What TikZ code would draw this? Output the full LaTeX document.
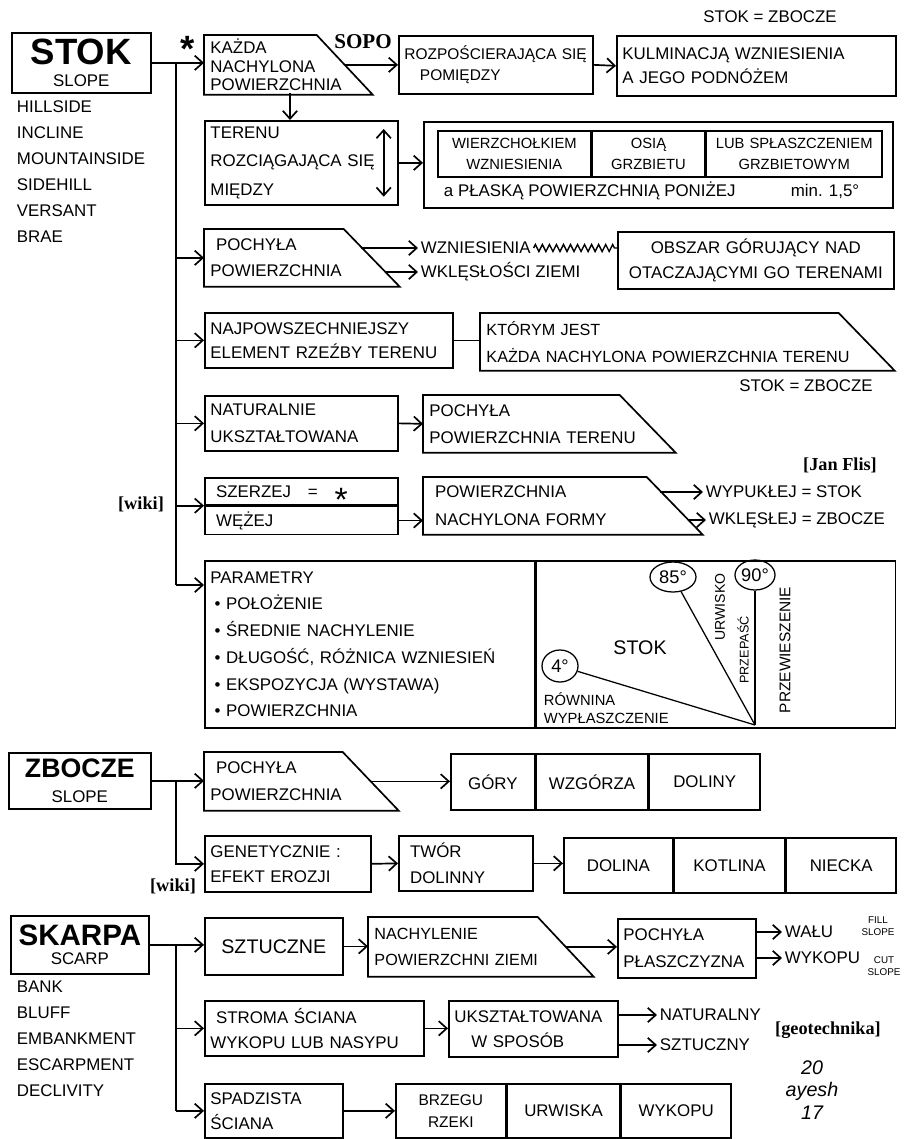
\documentclass[tikz,border=0pt]{standalone}
\usepackage{fontspec}
\setmainfont{Liberation Sans}
\newfontfamily\serifb{Liberation Serif}
\usetikzlibrary{arrows.meta,calc,shapes.geometric,decorations.pathmorphing}
\newcommand\hand{\fontsize{12}{15}\selectfont}
\newcommand\trap[1]{\draw (#1.north west) -- ($(#1.north east)+(-28,0)$) -- ($(#1.south east)+(28,0)$) -- (#1.south west) -- cycle;}
\begin{document}
\begin{tikzpicture}[x=0.025cm,y=-0.025cm,line width=1.2pt,
  >={Straight Barb[length=2mm,width=3.6mm]},
  box/.style 2 args={draw,anchor=north west,inner xsep=4pt,inner ysep=0pt,
    text width={#1*0.025cm-8pt},minimum height={#2*0.025cm},align=left,font=\hand},
  tbox/.style 2 args={box={#1}{#2},draw=none},
  cell/.style 2 args={box={#1}{#2},align=center},
  lbl/.style={font=\hand,inner sep=1.5pt},
  src/.style={font=\serifb\bfseries\fontsize{13}{13}\selectfont,inner sep=0pt},
  deg/.style={draw,ellipse,inner sep=0pt,line width=0.9pt,font=\fontsize{13}{13}\selectfont}]
\useasboundingbox (0,0) rectangle (908,1139);
\node[box={139}{60},align=center] (stok) at (11,32) {{\fontsize{26}{26}\selectfont\bfseries STOK}\\SLOPE};
\node[lbl,anchor=north west,align=left,font=\fontsize{12}{18.5}\selectfont] (stoksyn) at (14,98) {HILLSIDE\\INCLINE\\MOUNTAINSIDE\\SIDEHILL\\VERSANT\\BRAE};
\node[lbl,anchor=north,inner sep=0pt,font=\fontsize{26}{26}\selectfont\bfseries] (star) at (188,35) {*};
\node[tbox={139}{58},font=\fontsize{12}{13.3}\selectfont] (kazda) at (204,35) {KAŻDA\\NACHYLONA\\POWIERZCHNIA};
\trap{kazda}
\node[src,font=\serifb\bfseries\fontsize{15}{15}\selectfont] (sopo) at (363,42) {SOPO};
\node[box={194}{58},font=\fontsize{11}{15}\selectfont] (rozp) at (398,35) {ROZPOŚCIERAJĄCA SIĘ\\\quad POMIĘDZY};
\node[box={279}{60},font=\fontsize{12}{17}\selectfont] (kulm) at (616,35) {KULMINACJĄ WZNIESIENIA\\A JEGO PODNÓŻEM};
\node[lbl] (rowne1) at (770,17) {STOK = ZBOCZE};
\draw[->] (kazda.east) -- (rozp.west);
\draw[->] (rozp.east) -- (kulm.west);
\coordinate (kd) at (290,93);
\node[box={193}{84},font=\fontsize{12}{20}\selectfont] (teren) at (204,120) {TERENU\\ROZCIĄGAJĄCA SIĘ\\MIĘDZY};
\draw[->] (kd) -- (kd |- teren.north);
\draw[<->] ($(teren.north east)+(-15,9)$) -- ($(teren.south east)+(-15,-9)$);
\node[box={469}{86}] (wierz) at (423,121) {};
\node[cell={153}{46},font=\fontsize{10.5}{15}\selectfont] (wz1) at (437,130) {WIERZCHOŁKIEM\\WZNIESIENIA};
\node[cell={112}{46},font=\fontsize{10.5}{15}\selectfont] (wz2) at (wz1.north east) {OSIĄ\\GRZBIETU};
\node[cell={176}{46},font=\fontsize{10.5}{15}\selectfont] (wz3) at (wz2.north east) {LUB SPŁASZCZENIEM\\GRZBIETOWYM};
\node[lbl,anchor=west] (plaska) at (441,191) {a PŁASKĄ POWIERZCHNIĄ PONIŻEJ};
\node[lbl] (min) at (825,191) {min. 1,5°};
\draw[->] (teren.east) -- (teren.east -| wierz.west);
\node[tbox={166}{56},font=\fontsize{12}{18.5}\selectfont] (pochyla) at (204,229) {\ POCHYŁA\\POWIERZCHNIA};
\trap{pochyla}
\coordinate (pa) at (361,248);
\coordinate (pb) at (385,272);
\node[lbl,anchor=west] (wzn) at (418,248) {WZNIESIENIA};
\node[lbl,anchor=west] (wkl) at (418,272) {WKLĘSŁOŚCI ZIEMI};
\draw[->] (pa) -- (wzn.west);
\draw[->] (pb) -- (wkl.west);
\node[box={276}{57},align=center,font=\fontsize{12}{18}\selectfont] (obszar) at (617,231) {OBSZAR GÓRUJĄCY NAD\\OTACZAJĄCYMI GO TERENAMI};
\draw[line width=1pt,decorate,decoration={zigzag,segment length=5pt,amplitude=2.5pt}] (wzn.east) -- (wzn.east -| obszar.west);
\node[box={248}{55},font=\fontsize{12}{17}\selectfont] (najp) at (204,312) {NAJPOWSZECHNIEJSZY\\ELEMENT RZEŹBY TERENU};
\node[tbox={385}{56},font=\fontsize{11.5}{19}\selectfont] (ktory) at (480,313) {KTÓRYM JEST\\KAŻDA NACHYLONA POWIERZCHNIA TERENU};
\trap{ktory}
\draw (najp.east) -- (najp.east -| ktory.west);
\node[lbl] (rowne2) at (806,386) {STOK = ZBOCZE};
\node[box={193}{55},font=\fontsize{12}{19}\selectfont] (natur) at (204,395) {NATURALNIE\\UKSZTAŁTOWANA};
\node[tbox={223}{56},font=\fontsize{12}{19}\selectfont] (pochter) at (423,395) {POCHYŁA\\POWIERZCHNIA TERENU};
\trap{pochter}
\draw[->] (natur.east) -- (pochter.west);
\node[box={193}{27}] (szer) at (204,477) {\ SZERZEJ\quad=\quad\raisebox{-10pt}[0pt][0pt]{\fontsize{24}{24}\selectfont *}};
\node[box={193}{28}] (wez) at (szer.south west) {\ WĘŻEJ};
\node[src] (wiki1) at (141,504) {[wiki]};
\node[tbox={250}{56},font=\fontsize{12}{20}\selectfont] (nachf) at (423,477) {\ POWIERZCHNIA\\\ NACHYLONA FORMY};
\trap{nachf}
\draw[->] (wez.east) -- (wez.east -| nachf.west);
\coordinate (na) at (660,492);
\coordinate (nb) at (688,520);
\node[lbl,anchor=west] (wyp) at (703,492) {WYPUKŁEJ = STOK};
\node[lbl,anchor=west] (wkl2) at (706,520) {WKLĘSŁEJ = ZBOCZE};
\draw[->] (na) -- (wyp.west);
\draw[->] (nb) -- (wkl2.west);
\node[src] (flis) at (840,465) {[Jan Flis]};
\node[box={330}{167},font=\fontsize{12}{19}\selectfont] (parl) at (204,560) {PARAMETRY\\\hspace{3pt}\textbullet\ POŁOŻENIE\\\hspace{3pt}\textbullet\ ŚREDNIE NACHYLENIE\\\hspace{3pt}\textbullet\ DŁUGOŚĆ, RÓŻNICA WZNIESIEŃ\\\hspace{3pt}\textbullet\ EKSPOZYCJA (WYSTAWA)\\\hspace{3pt}\textbullet\ POWIERZCHNIA};
\node[box={359}{167}] (parr) at (parl.north east) {};
\coordinate (apex) at (755,725);
\node[deg,minimum width=0.9cm,minimum height=0.8cm] (d4) at (560,666) {4°};
\node[deg,minimum width=1.15cm,minimum height=0.75cm] (d85) at (673,577) {85°};
\node[deg,minimum width=1cm,minimum height=0.75cm] (d90) at (755,575) {90°};
\draw[line width=0.9pt] (apex) -- (d4);
\draw[line width=0.9pt] (apex) -- (d85);
\draw[line width=0.9pt] (apex) -- (d90);
\node[lbl,font=\fontsize{14}{14}\selectfont] (stoklbl) at (640,648) {STOK};
\node[lbl,anchor=north west,align=left,font=\fontsize{10.5}{12.5}\selectfont] (rown) at (541,690) {RÓWNINA\\WYPŁASZCZENIE};
\node[lbl,rotate=90,font=\fontsize{10}{10}\selectfont] (urw) at (720,607) {URWISKO};
\node[lbl,rotate=90,font=\fontsize{9}{9}\selectfont] (przep) at (743,650) {PRZEPAŚĆ};
\node[lbl,rotate=90,font=\fontsize{11}{11}\selectfont] (przew) at (785,650) {PRZEWIESZENIE};
\coordinate (trunk) at (176,62);
\coordinate (pin) at (204,585);
\draw[->] (stok.east) -- (stok.east -| kazda.west);
\draw (trunk) -- (trunk |- pin);
\draw[->] (trunk |- pochyla.west) -- (pochyla.west);
\draw[->] (trunk |- najp.west) -- (najp.west);
\draw[->] (trunk |- natur.west) -- (natur.west);
\draw[->] (trunk |- szer.south west) -- (szer.south west);
\draw[->] (trunk |- pin) -- (pin);
\node[box={142}{56},align=center] (zbocze) at (8,752) {{\fontsize{19}{19}\selectfont\bfseries ZBOCZE}\\[3pt]SLOPE};
\node[tbox={165}{57},font=\fontsize{12}{19}\selectfont] (pochz) at (204,752) {\ POCHYŁA\\POWIERZCHNIA};
\trap{pochz}
\node[cell={84}{56}] (gory) at (450,753) {GÓRY};
\node[cell={111}{56}] (wzg) at (gory.north east) {WZGÓRZA};
\node[cell={111}{56}] (doliny) at (wzg.north east) {DOLINY};
\draw[->] (pochz.east) -- (pochz.east -| gory.west);
\node[box={166}{56},font=\fontsize{12}{18}\selectfont] (genet) at (204,835) {GENETYCZNIE :\\EFEKT EROZJI};
\node[src] (wiki2) at (173,886) {[wiki]};
\node[box={134}{55},font=\fontsize{12}{18}\selectfont] (twor) at (398,835) {\ TWÓR\\\ DOLINNY};
\node[cell={109}{55}] (dolina) at (563,837) {DOLINA};
\node[cell={110}{55}] (kotl) at (dolina.north east) {KOTLINA};
\node[cell={110}{55}] (niecka) at (kotl.north east) {NIECKA};
\draw[->] (genet.east) -- (twor.west);
\draw[->] (twor.east) -- (twor.east -| dolina.west);
\coordinate (trunk2) at (176,780);
\draw[->] (zbocze.east) -- (zbocze.east -| pochz.west);
\draw[->] (trunk2) |- (genet.west);
\node[box={138}{58},align=center] (skarpa) at (10,915) {{\fontsize{21}{21}\selectfont\bfseries SKARPA}\\[-1pt]SCARP};
\node[lbl,anchor=north west,align=left,font=\fontsize{12}{18.5}\selectfont] (skarsyn) at (14,978) {BANK\\BLUFF\\EMBANKMENT\\ESCARPMENT\\DECLIVITY};
\node[box={138}{57},align=center,font=\fontsize{14}{14}\selectfont] (sztuc) at (204,917) {SZTUCZNE};
\node[tbox={196}{58},font=\fontsize{11.5}{18.5}\selectfont] (nachz) at (368,917) {NACHYLENIE\\POWIERZCHNI ZIEMI};
\trap{nachz}
\node[box={138}{59},font=\fontsize{12}{19}\selectfont] (plasz) at (617,918) {POCHYŁA\\PŁASZCZYZNA};
\draw[->] (sztuc.east) -- (sztuc.east -| nachz.west);
\draw[->] (nachz.east) -- (nachz.east -| plasz.west);
\node[lbl,anchor=west] (walu) at (782,932) {WAŁU};
\node[lbl,anchor=west] (wykop) at (782,958) {WYKOPU};
\draw[->] (plasz.east |- walu.west) -- (walu.west);
\draw[->] (plasz.east |- wykop.west) -- (wykop.west);
\node[lbl,align=center,font=\fontsize{7}{8.5}\selectfont] (fill) at (878,926) {FILL\\SLOPE};
\node[lbl,align=center,font=\fontsize{7}{8.5}\selectfont] (cut) at (884,966) {CUT\\SLOPE};
\node[box={219}{55},font=\fontsize{12}{18}\selectfont] (stroma) at (204,1000) {\ STROMA ŚCIANA\\WYKOPU LUB NASYPU};
\node[box={169}{56},font=\fontsize{12}{18}\selectfont] (uksz) at (448,1000) {UKSZTAŁTOWANA\\\quad W SPOSÓB};
\draw[->] (stroma.east) -- (stroma.east -| uksz.west);
\node[lbl,anchor=west] (natural) at (657,1015) {NATURALNY};
\node[lbl,anchor=west] (sztuczny) at (657,1045) {SZTUCZNY};
\draw[->] (uksz.east |- natural.west) -- (natural.west);
\draw[->] (uksz.east |- sztuczny.west) -- (sztuczny.west);
\node[src] (geo) at (828,1030) {[geotechnika]};
\node[lbl,align=center,font=\itshape\fontsize{14}{16}\selectfont] (sig) at (812,1090) {20\\ayesh\\17};
\node[box={138}{54},font=\fontsize{12}{18}\selectfont] (spad) at (204,1083) {SPADZISTA\\ŚCIANA};
\node[cell={110}{54},font=\fontsize{11}{16}\selectfont] (brz) at (395,1083) {BRZEGU\\RZEKI};
\node[cell={112}{54}] (urwis) at (brz.north east) {URWISKA};
\node[cell={110}{54}] (wykopu) at (urwis.north east) {WYKOPU};
\draw[->] (spad.east) -- (brz.west);
\coordinate (trunk3) at (176,944);
\draw[->] (skarpa.east) -- (skarpa.east -| sztuc.west);
\draw (trunk3) -- (trunk3 |- spad.west);
\draw[->] (trunk3 |- stroma.west) -- (stroma.west);
\draw[->] (trunk3 |- spad.west) -- (spad.west);
\end{tikzpicture}
\end{document}
